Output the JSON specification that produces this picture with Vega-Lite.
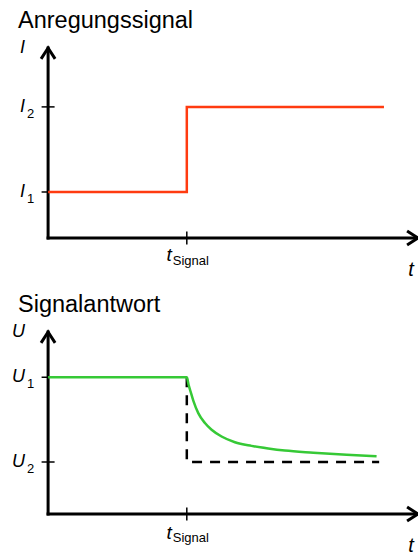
{
  "$schema": "https://vega.github.io/schema/vega-lite/v6.json",
  "padding": {"top": 8, "left": 0, "right": 0, "bottom": 0},
  "spacing": 12,
  "config": {
    "view": {"stroke": null},
    "font": "Liberation Sans",
    "title": {"font": "Liberation Sans", "fontSize": 23.5, "fontWeight": "normal", "anchor": "start", "offset": 4, "color": "black"}
  },
  "datasets": {
    "achsen_oben": [{"t": 0, "t2": 10, "v": 0, "v2": 0}, {"t": 0, "t2": 0, "v": 0, "v2": 4.13}],
    "pfeile_oben": [{"t": 0, "v": 4.13, "richtung": "oben"}, {"t": 10, "v": 0, "richtung": "rechts"}],
    "yticks_oben": [{"t": 0, "v": 1}, {"t": 0, "v": 2.85}],
    "xticks": [{"t": 3.75, "v": 0}],
    "anregung": [
      {"i": 1, "t": 0, "v": 1},
      {"i": 2, "t": 3.75, "v": 1},
      {"i": 3, "t": 3.75, "v": 2.85},
      {"i": 4, "t": 9.08, "v": 2.85}
    ],
    "ylabels_oben": [
      {"t": 0, "v": 4.13, "haupt": "I", "index": ""},
      {"t": 0, "v": 2.85, "haupt": "I", "index": "2"},
      {"t": 0, "v": 1, "haupt": "I", "index": "1"}
    ],
    "xlabels": [{"t": 3.75, "v": 0, "haupt": "t", "index": "Signal"}],
    "tachse": [{"t": 10, "v": 0, "haupt": "t"}],
    "achsen_unten": [{"t": 0, "t2": 10, "v": 0, "v2": 0}, {"t": 0, "t2": 0, "v": 0, "v2": 3.5}],
    "pfeile_unten": [{"t": 0, "v": 3.5, "richtung": "oben"}, {"t": 10, "v": 0, "richtung": "rechts"}],
    "yticks_unten": [{"t": 0, "v": 1}, {"t": 0, "v": 2.63}],
    "sprung": [
      {"i": 1, "t": 3.75, "v": 2.63},
      {"i": 2, "t": 3.75, "v": 1},
      {"i": 3, "t": 8.95, "v": 1}
    ],
    "antwort": [
      {"i": 1, "t": 0, "v": 2.63},
      {"i": 2, "t": 3.75, "v": 2.63},
      {"i": 3, "t": 3.8, "v": 2.48},
      {"i": 4, "t": 3.85, "v": 2.36},
      {"i": 5, "t": 3.93, "v": 2.17},
      {"i": 6, "t": 4.06, "v": 1.94},
      {"i": 7, "t": 4.24, "v": 1.75},
      {"i": 8, "t": 4.42, "v": 1.62},
      {"i": 9, "t": 4.69, "v": 1.49},
      {"i": 10, "t": 5.05, "v": 1.38},
      {"i": 11, "t": 5.5, "v": 1.31},
      {"i": 12, "t": 5.95, "v": 1.26},
      {"i": 13, "t": 6.4, "v": 1.22},
      {"i": 14, "t": 7.17, "v": 1.18},
      {"i": 15, "t": 8.07, "v": 1.14},
      {"i": 16, "t": 8.88, "v": 1.11}
    ],
    "ylabels_unten": [
      {"t": 0, "v": 3.5, "haupt": "U", "index": ""},
      {"t": 0, "v": 2.63, "haupt": "U", "index": "1"},
      {"t": 0, "v": 1, "haupt": "U", "index": "2"}
    ]
  },
  "vconcat": [
    {
      "width": 418,
      "height": 244,
      "title": {"text": "Anregungssignal", "dx": 18},
      "encoding": {
        "x": {"field": "t", "type": "quantitative", "scale": {"domain": [-1.3, 10], "nice": false, "zero": false}, "axis": null},
        "y": {"field": "v", "type": "quantitative", "scale": {"domain": [-0.913, 4.391], "nice": false, "zero": false}, "axis": null}
      },
      "layer": [
        {"data": {"name": "achsen_oben"}, "mark": {"type": "rule", "strokeWidth": 3, "strokeCap": "square", "color": "black"}, "encoding": {"x2": {"field": "t2"}, "y2": {"field": "v2"}}},
        {"data": {"name": "pfeile_oben"}, "mark": {"type": "point", "filled": false, "stroke": "black", "strokeWidth": 3, "strokeJoin": "miter", "opacity": 1, "size": 243},
          "encoding": {"shape": {"field": "richtung", "type": "nominal", "scale": {"domain": ["oben", "rechts"], "range": ["M -0.9 1.4 L 0 0 L 0.9 1.4", "M -1.4 -0.9 L 0 0 L -1.4 0.9"]}, "legend": null}}},
        {"data": {"name": "yticks_oben"}, "mark": {"type": "tick", "orient": "horizontal", "size": 13, "thickness": 1.5, "color": "black", "opacity": 1}},
        {"data": {"name": "xticks"}, "mark": {"type": "tick", "orient": "vertical", "size": 13, "thickness": 1.5, "color": "black", "opacity": 1}},
        {"data": {"name": "anregung"}, "mark": {"type": "line", "color": "#FF3B10", "strokeWidth": 2.5, "strokeJoin": "miter"}, "encoding": {"order": {"field": "i", "type": "quantitative"}}},
        {"data": {"name": "ylabels_oben"}, "mark": {"type": "text", "color": "black", "fontStyle": "italic", "fontSize": 18, "align": "right", "baseline": "middle", "dx": -23}, "encoding": {"text": {"field": "haupt"}}},
        {"data": {"name": "ylabels_oben"}, "mark": {"type": "text", "color": "black", "fontSize": 13, "align": "left", "baseline": "middle", "dx": -21, "dy": 7}, "encoding": {"text": {"field": "index"}}},
        {"data": {"name": "xlabels"}, "mark": {"type": "text", "color": "black", "fontStyle": "italic", "fontSize": 19, "align": "right", "baseline": "middle", "dx": -15, "dy": 17}, "encoding": {"text": {"field": "haupt"}}},
        {"data": {"name": "xlabels"}, "mark": {"type": "text", "color": "black", "fontSize": 13, "align": "left", "baseline": "middle", "dx": -14, "dy": 23}, "encoding": {"text": {"field": "index"}}},
        {"data": {"name": "tachse"}, "mark": {"type": "text", "color": "black", "fontStyle": "italic", "fontSize": 20, "align": "center", "baseline": "middle", "dx": -7, "dy": 32}, "encoding": {"text": {"field": "haupt"}}}
      ]
    },
    {
      "width": 418,
      "height": 237,
      "title": {"text": "Signalantwort", "dx": 18},
      "encoding": {
        "x": {"field": "t", "type": "quantitative", "scale": {"domain": [-1.3, 10], "nice": false, "zero": false}, "axis": null},
        "y": {"field": "v", "type": "quantitative", "scale": {"domain": [-0.827, 3.731], "nice": false, "zero": false}, "axis": null}
      },
      "layer": [
        {"data": {"name": "achsen_unten"}, "mark": {"type": "rule", "strokeWidth": 3, "strokeCap": "square", "color": "black"}, "encoding": {"x2": {"field": "t2"}, "y2": {"field": "v2"}}},
        {"data": {"name": "pfeile_unten"}, "mark": {"type": "point", "filled": false, "stroke": "black", "strokeWidth": 3, "strokeJoin": "miter", "opacity": 1, "size": 243},
          "encoding": {"shape": {"field": "richtung", "type": "nominal", "scale": {"domain": ["oben", "rechts"], "range": ["M -0.9 1.4 L 0 0 L 0.9 1.4", "M -1.4 -0.9 L 0 0 L -1.4 0.9"]}, "legend": null}}},
        {"data": {"name": "yticks_unten"}, "mark": {"type": "tick", "orient": "horizontal", "size": 13, "thickness": 1.5, "color": "black", "opacity": 1}},
        {"data": {"name": "xticks"}, "mark": {"type": "tick", "orient": "vertical", "size": 13, "thickness": 1.5, "color": "black", "opacity": 1}},
        {"data": {"name": "sprung"}, "mark": {"type": "line", "color": "black", "strokeWidth": 2.5, "strokeDash": [10, 8], "strokeJoin": "miter"}, "encoding": {"order": {"field": "i", "type": "quantitative"}}},
        {"data": {"name": "antwort"}, "mark": {"type": "line", "color": "#36C936", "strokeWidth": 2.5, "interpolate": "monotone"}, "encoding": {"order": {"field": "i", "type": "quantitative"}}},
        {"data": {"name": "ylabels_unten"}, "mark": {"type": "text", "color": "black", "fontStyle": "italic", "fontSize": 18, "align": "right", "baseline": "middle", "dx": -23}, "encoding": {"text": {"field": "haupt"}}},
        {"data": {"name": "ylabels_unten"}, "mark": {"type": "text", "color": "black", "fontSize": 13, "align": "left", "baseline": "middle", "dx": -21, "dy": 7}, "encoding": {"text": {"field": "index"}}},
        {"data": {"name": "xlabels"}, "mark": {"type": "text", "color": "black", "fontStyle": "italic", "fontSize": 19, "align": "right", "baseline": "middle", "dx": -15, "dy": 19}, "encoding": {"text": {"field": "haupt"}}},
        {"data": {"name": "xlabels"}, "mark": {"type": "text", "color": "black", "fontSize": 13, "align": "left", "baseline": "middle", "dx": -14, "dy": 24}, "encoding": {"text": {"field": "index"}}},
        {"data": {"name": "tachse"}, "mark": {"type": "text", "color": "black", "fontStyle": "italic", "fontSize": 20, "align": "center", "baseline": "middle", "dx": -7, "dy": 32}, "encoding": {"text": {"field": "haupt"}}}
      ]
    }
  ]
}
